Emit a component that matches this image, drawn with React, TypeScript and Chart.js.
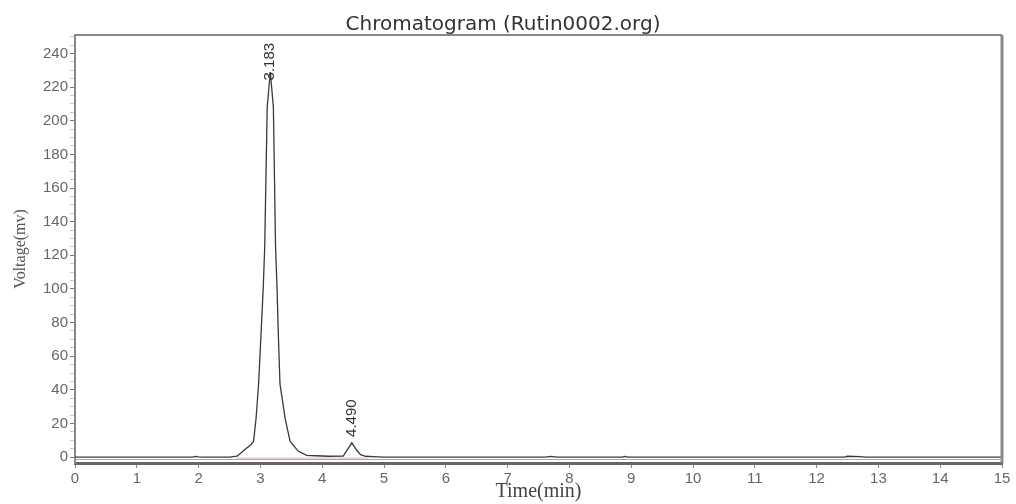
import React, { useEffect, useRef } from 'react';
import { Chart, registerables } from 'chart.js';

Chart.register(...registerables);

// Retention time (min) and detector signal (mV)
const timeMin = [
  0, 1.9, 1.95, 2.0, 2.1, 2.5, 2.62, 2.67, 2.75, 2.85, 2.89, 2.93, 2.97, 3.01, 3.045, 3.07,
  3.11, 3.16, 3.21, 3.245, 3.27, 3.29, 3.317, 3.4, 3.48, 3.61, 3.75, 3.9,
  4.1, 4.34, 4.4, 4.48, 4.55, 4.62, 4.7, 4.9, 5.0, 7.6, 7.7, 7.8, 8.85, 8.9, 8.95,
  12.45, 12.5, 12.7, 12.8, 15,
];
const voltageMv = [
  0, 0, 0.4, 0.2, 0, 0, 0.6, 2.0, 4.5, 7.5, 9.5, 23, 43, 73, 100, 125,
  208, 229, 208, 125, 100, 73, 43.5, 23, 9.5, 3.6, 1.0, 0.8,
  0.5, 0.6, 4, 8.5, 4.5, 1.5, 0.5, 0.2, 0, 0, 0.4, 0, 0, 0.4, 0,
  0, 0.5, 0.3, 0, 0,
];

// Integration baseline under the peaks
const baselineTime = [2.6, 4.75];
const baselineMv = [-0.6, -0.6];

// Peak annotations (anchor time / anchor signal / text)
const peakTime = [3.16, 4.48];
const peakLabelMv = [224, 12];
const peakLabels = ['3.183', '4.490'];

const chartTitle = 'Chromatogram (Rutin0002.org)';
const xTitle = 'Time(min)';
const yTitle = 'Voltage(mv)';

const titlePlugin = {
  id: 'topTitle',
  afterDraw(chart: any) {
    const { ctx, width } = chart;
    ctx.save();
    ctx.font = '20px "DejaVu Sans"';
    ctx.fillStyle = '#333';
    ctx.textAlign = 'center';
    ctx.textBaseline = 'middle';
    ctx.fillText(chartTitle, 503, 25);
    ctx.restore();
  },
};

const framePlugin = {
  id: 'frame',
  afterDraw(chart: any) {
    const { ctx, chartArea } = chart;
    ctx.save();
    ctx.strokeStyle = '#888';
    ctx.lineWidth = 2;
    ctx.beginPath();
    ctx.moveTo(chartArea.left, chartArea.top);
    ctx.lineTo(chartArea.right, chartArea.top);
    ctx.stroke();
    ctx.lineWidth = 3;
    ctx.beginPath();
    ctx.moveTo(chartArea.right, chartArea.top);
    ctx.lineTo(chartArea.right, chartArea.bottom);
    ctx.stroke();
    ctx.strokeStyle = '#aaa';
    ctx.lineWidth = 1;
    ctx.beginPath();
    ctx.moveTo(chartArea.left, chartArea.bottom - 3.5);
    ctx.lineTo(chartArea.right, chartArea.bottom - 3.5);
    ctx.stroke();
    ctx.restore();
  },
};

const peakLabelPlugin = {
  id: 'peakLabels',
  afterDatasetsDraw(chart: any) {
    const { ctx, scales } = chart;
    ctx.save();
    ctx.font = '15px "Liberation Sans"';
    ctx.fillStyle = '#333';
    ctx.textAlign = 'left';
    ctx.textBaseline = 'middle';
    peakTime.forEach((t, i) => {
      const px = scales.x.getPixelForValue(t);
      const py = scales.y.getPixelForValue(peakLabelMv[i]);
      ctx.save();
      ctx.translate(px, py);
      ctx.rotate(-Math.PI / 2);
      ctx.fillText(peakLabels[i], 0, 0);
      ctx.restore();
    });
    ctx.restore();
  },
};

export default function App() {
  const ref = useRef<HTMLCanvasElement | null>(null);

  useEffect(() => {
    if (!ref.current) return;
    const tickFont = { family: '"Liberation Sans"', size: 15 };
    const chart = new Chart(ref.current, {
      type: 'line',
      data: {
        datasets: [
          {
            data: timeMin.map((t, i) => ({ x: t, y: voltageMv[i] })),
            borderColor: '#3a3a3a',
            borderWidth: 1.3,
            pointRadius: 0,
            tension: 0,
            fill: false,
          },
          {
            data: baselineTime.map((t, i) => ({ x: t, y: baselineMv[i] })),
            borderColor: '#e9b4b4',
            borderWidth: 1,
            pointRadius: 0,
            fill: false,
          },
        ],
      },
      options: {
        animation: false,
        responsive: false,
        events: [],
        layout: { padding: { left: 0, right: 14, top: 35, bottom: 0 } },
        plugins: {
          legend: { display: false },
          tooltip: { enabled: false },
          title: { display: false },
        },
        scales: {
          x: {
            type: 'linear',
            min: 0,
            max: 15,
            ticks: {
              stepSize: 1,
              autoSkip: false,
              maxRotation: 0,
              font: tickFont,
              color: '#666',
              padding: 2,
            },
            grid: { drawOnChartArea: false, tickLength: 5, color: '#888' },
            border: { color: '#666', width: 3 },
            title: {
              display: true,
              text: xTitle,
              font: { family: '"Liberation Serif"', size: 20 },
              color: '#444',
              padding: { top: 0, bottom: 0 },
            },
            afterFit: (s: any) => {
              s.height = 41;
            },
          },
          y: {
            type: 'linear',
            min: -3.5,
            max: 251,
            ticks: {
              stepSize: 5,
              includeBounds: false,
              autoSkip: false,
              font: tickFont,
              color: '#666',
              padding: 2,
              callback: (v: any) => (Math.abs(v % 20) < 1e-6 ? String(v) : ''),
            },
            grid: {
              drawOnChartArea: false,
              tickLength: 5,
              color: (c: any) =>
                c.tick && Math.abs(c.tick.value % 20) < 1e-6 ? '#777' : '#c8c8c8',
            },
            border: { color: '#888', width: 2 },
            title: {
              display: true,
              text: yTitle,
              font: { family: '"Liberation Serif"', size: 16 },
              color: '#555',
              padding: { top: 11, bottom: 0 },
            },
            afterFit: (s: any) => {
              s.width = 75;
            },
          },
        },
      },
      plugins: [titlePlugin, framePlugin, peakLabelPlugin],
    } as any);
    return () => chart.destroy();
  }, []);

  return (
    <div style={{ position: 'fixed', left: 0, top: 0, width: 1016, height: 504, background: '#fff' }}>
      <canvas ref={ref} width={1016} height={504} />
    </div>
  );
}
